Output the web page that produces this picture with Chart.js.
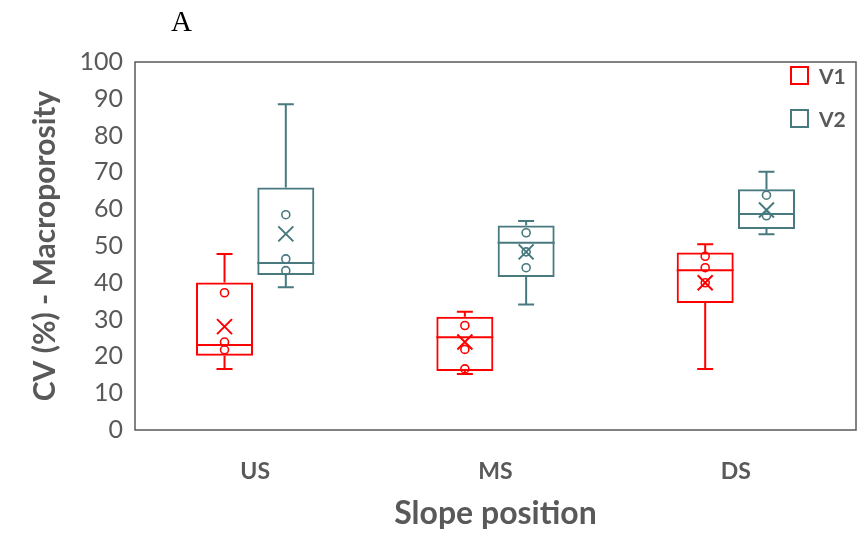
<!DOCTYPE html>
<html>
<head>
<meta charset="utf-8">
<script src="https://cdn.jsdelivr.net/npm/chart.js@4.4.1/dist/chart.umd.min.js"></script>
<style>
html,body{margin:0;padding:0;background:#fff;}
#wrap{position:relative;width:862px;height:544px;}
canvas{display:block;}
</style>
</head>
<body>
<div id="wrap"><canvas id="c" width="862" height="544"></canvas></div>
<script>
// ---- data ----
const categories = ['US', 'MS', 'DS'];
const seriesNames = ['V1', 'V2'];
const yTicks = [0, 10, 20, 30, 40, 50, 60, 70, 80, 90, 100];

const v1Min    = [16.6, 15.2, 16.6];
const v1Q1     = [20.2, 16.0, 34.5];
const v1Median = [23.1, 25.2, 43.4];
const v1Q3     = [40.1, 30.8, 48.2];
const v1Max    = [47.8, 32.1, 50.5];
const v1Mean   = [28.1, 23.9, 40.0];
const v1Points = [[37.3, 23.9, 21.8], [28.4, 21.9, 16.6], [47.2, 44.1, 40.0]];

const v2Min    = [38.8, 34.1, 53.2];
const v2Q1     = [42.1, 41.6, 54.6];
const v2Median = [45.4, 50.9, 58.7];
const v2Q3     = [65.9, 55.6, 65.4];
const v2Max    = [88.5, 56.8, 70.2];
const v2Mean   = [53.3, 48.4, 59.8];
const v2Points = [[58.5, 46.5, 43.3], [53.6, 48.4, 44.1], [63.8, 58.2]];

// ---- styling ----
const RED = '#ff0000';
const TEAL = '#47797e';
const GRAY = '#595959';
const FONT = 'Lato, "Open Sans", sans-serif';

const stats = [
  {min: v1Min, q1: v1Q1, med: v1Median, q3: v1Q3, max: v1Max, mean: v1Mean, pts: v1Points, color: RED},
  {min: v2Min, q1: v2Q1, med: v2Median, q3: v2Q3, max: v2Max, mean: v2Mean, pts: v2Points, color: TEAL}
];

const boxPlugin = {
  id: 'boxExtras',
  afterDatasetsDraw(chart) {
    const ctx = chart.ctx;
    const y = chart.scales.y;
    const ca = chart.chartArea;
    ctx.save();
    stats.forEach((s, i) => {
      const meta = chart.getDatasetMeta(i);
      meta.data.forEach((el, j) => {
        const x = el.x, w = el.width;
        ctx.strokeStyle = s.color;
        ctx.lineWidth = 2;
        // median
        const ym = y.getPixelForValue(s.med[j]);
        ctx.beginPath(); ctx.moveTo(x - w / 2, ym); ctx.lineTo(x + w / 2, ym); ctx.stroke();
        // whiskers
        const yq3 = y.getPixelForValue(s.q3[j]), yq1 = y.getPixelForValue(s.q1[j]);
        const ymax = y.getPixelForValue(s.max[j]), ymin = y.getPixelForValue(s.min[j]);
        const cap = 8;
        ctx.beginPath();
        ctx.moveTo(x, yq3); ctx.lineTo(x, ymax);
        ctx.moveTo(x - cap, ymax); ctx.lineTo(x + cap, ymax);
        ctx.moveTo(x, yq1); ctx.lineTo(x, ymin);
        ctx.moveTo(x - cap, ymin); ctx.lineTo(x + cap, ymin);
        ctx.stroke();
        // mean X
        const yMean = y.getPixelForValue(s.mean[j]);
        const h = 7.5;
        ctx.beginPath();
        ctx.moveTo(x - h, yMean - h); ctx.lineTo(x + h, yMean + h);
        ctx.moveTo(x + h, yMean - h); ctx.lineTo(x - h, yMean + h);
        ctx.stroke();
        // inner points
        ctx.lineWidth = 1.6;
        s.pts[j].forEach(v => {
          const yp = y.getPixelForValue(v);
          ctx.beginPath(); ctx.arc(x, yp, 4, 0, Math.PI * 2); ctx.stroke();
        });
      });
    });
    // frame
    ctx.strokeStyle = GRAY;
    ctx.lineWidth = 1.5;
    ctx.strokeRect(ca.left, ca.top, ca.right - ca.left, ca.bottom - ca.top);
    // legend
    const legendY = [76, 119];
    seriesNames.forEach((name, i) => {
      ctx.strokeStyle = stats[i].color;
      ctx.lineWidth = 2;
      ctx.strokeRect(791, legendY[i] - 9, 17, 17);
      ctx.fillStyle = GRAY;
      ctx.font = 'bold 21px ' + FONT;
      ctx.textBaseline = 'middle';
      ctx.textAlign = 'left';
      ctx.fillText(name, 819, legendY[i] + 1);
    });
    // panel label
    ctx.fillStyle = '#000';
    ctx.font = '29px "Liberation Serif", serif';
    ctx.textBaseline = 'alphabetic';
    ctx.fillText('A', 171, 31);
    ctx.restore();
  }
};

new Chart(document.getElementById('c'), {
  type: 'bar',
  data: {
    labels: categories,
    datasets: stats.map((s, i) => ({
      label: seriesNames[i],
      data: categories.map((c, j) => [s.q1[j], s.q3[j]]),
      backgroundColor: 'rgba(0,0,0,0)',
      borderColor: s.color,
      borderWidth: 2,
      borderSkipped: false,
      categoryPercentage: 0.51,
      barPercentage: 0.93
    }))
  },
  options: {
    responsive: false,
    animation: false,
    layout: {padding: {left: 0, right: 6, top: 62, bottom: 0}},
    plugins: {legend: {display: false}, tooltip: {enabled: false}, title: {display: false}},
    scales: {
      x: {
        grid: {display: false},
        border: {display: false},
        ticks: {color: GRAY, font: {family: FONT, weight: 'bold', size: 23}, padding: 20},
        title: {display: true, text: 'Slope position', color: GRAY,
                font: {family: FONT, weight: 'bold', size: 32}, padding: {top: 0, bottom: 11}},
        afterFit(s) { s.height = 114; }
      },
      y: {
        min: 0, max: 100,
        grid: {display: false},
        border: {display: false},
        afterBuildTicks(s) { s.ticks = yTicks.map(v => ({value: v})); },
        ticks: {color: GRAY, font: {family: FONT, size: 25}, padding: 4},
        title: {display: true, text: 'CV (%) - Macroporosity', color: GRAY,
                font: {family: FONT, weight: 'bold', size: 30}, padding: {top: 27, bottom: 0}},
        afterFit(s) { s.width = 135; }
      }
    }
  },
  plugins: [boxPlugin]
});
</script>
</body>
</html>
